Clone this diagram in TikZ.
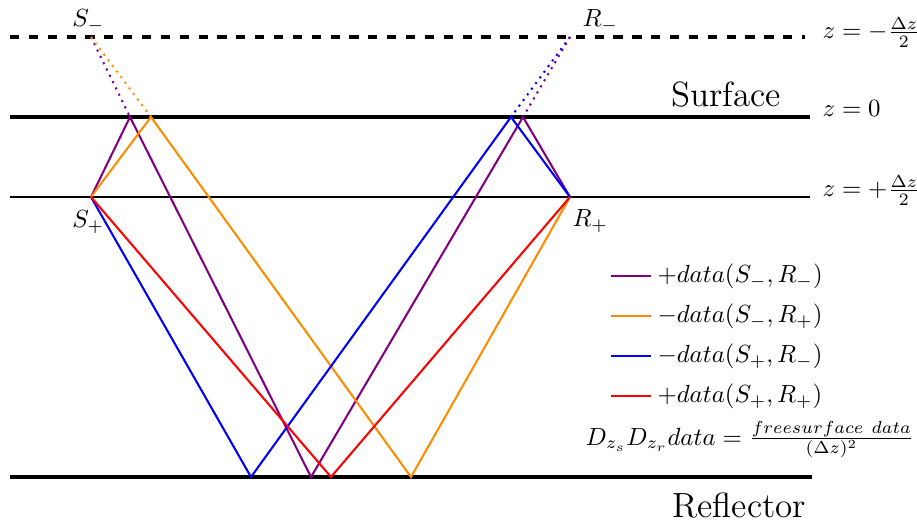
\documentclass[tikz,border=0pt]{standalone}
\usepackage{amsmath}
\definecolor{myorange}{RGB}{255,140,0}
\definecolor{mypurple}{RGB}{128,0,128}
\begin{document}
\begin{tikzpicture}[x=0.403pt,y=-0.403pt,
  ray/.style={line width=0.83pt},
  dotray/.style={line width=0.83pt, dotted},
  lbl/.style={anchor=base west, inner sep=0pt},
  bigtext/.style={anchor=base west, inner sep=0pt, font=\fontsize{14.1}{17}\selectfont}]
\useasboundingbox (0,0) rectangle (917,530);
% horizontal levels
\draw[line width=1.25pt, dash pattern=on 3.7pt off 3.9pt] (10,37) -- (805,37);
\draw[line width=1.45pt] (10,117) -- (810,117);
\draw[line width=0.95pt] (10,197) -- (810,197);
\draw[line width=1.35pt] (10,477) -- (812,477);
% sources and receivers
\coordinate (Sm) at (91,37);
\coordinate (Sp) at (91,197);
\coordinate (Rm) at (570,37);
\coordinate (Rp) at (570,197);
% bounce points
\coordinate (pu1) at (130,117);
\coordinate (pu2) at (311,477);
\coordinate (pu3) at (523,117);
\coordinate (o1) at (151,117);
\coordinate (o2) at (411,477);
\coordinate (b1) at (251,477);
\coordinate (b2) at (511,117);
\coordinate (r1) at (331,477);
% rays
\draw[ray, mypurple] (Sp) -- (pu1) -- (pu2) -- (pu3) -- (Rp);
\draw[ray, myorange] (Sp) -- (o1) -- (o2) -- (Rp);
\draw[ray, blue] (Sp) -- (b1) -- (b2) -- (Rp);
\draw[ray, red] (Sp) -- (r1) -- (Rp);
\draw[dotray, mypurple] (Sm) -- (pu1);
\draw[dotray, myorange] (Sm) -- (o1);
\draw[dotray, blue] (Rm) -- (b2);
\draw[dotray, mypurple] (Rm) -- (pu3);
% labels
\node[lbl] (lSm) at (72,27) {$S_-$};
\node[lbl] (lSp) at (72,228) {$S_+$};
\node[lbl] (lRm) at (582,27) {$R_-$};
\node[lbl] (lRp) at (572,227) {$R_+$};
\node[lbl] (z1) at (822,39) {$z=-\frac{\Delta z}{2}$};
\node[lbl] (z2) at (822,117) {$z=0$};
\node[lbl] (z3) at (822,197) {$z=+\frac{\Delta z}{2}$};
\node[bigtext] (surf) at (671,107) {Surface};
\node[bigtext] (refl) at (672,517) {Reflector};
% legend
\coordinate (la1) at (611,276); \coordinate (la2) at (651,276);
\coordinate (lb1) at (611,316); \coordinate (lb2) at (651,316);
\coordinate (lc1) at (611,356); \coordinate (lc2) at (651,356);
\coordinate (ld1) at (611,396); \coordinate (ld2) at (651,396);
\draw[ray, mypurple] (la1) -- (la2);
\draw[ray, myorange] (lb1) -- (lb2);
\draw[ray, blue] (lc1) -- (lc2);
\draw[ray, red] (ld1) -- (ld2);
\node[lbl] (ta) at (657,283) {$+data(S_-,R_-)$};
\node[lbl] (tb) at (657,323) {$-data(S_-,R_+)$};
\node[lbl] (tc) at (657,363) {$-data(S_+,R_-)$};
\node[lbl] (td) at (657,403) {$+data(S_+,R_+)$};
\node[lbl] (form) at (585,445) {$D_{z_s}D_{z_r}data=\frac{freesurface\ data}{(\Delta z)^2}$};
\end{tikzpicture}
\end{document}
